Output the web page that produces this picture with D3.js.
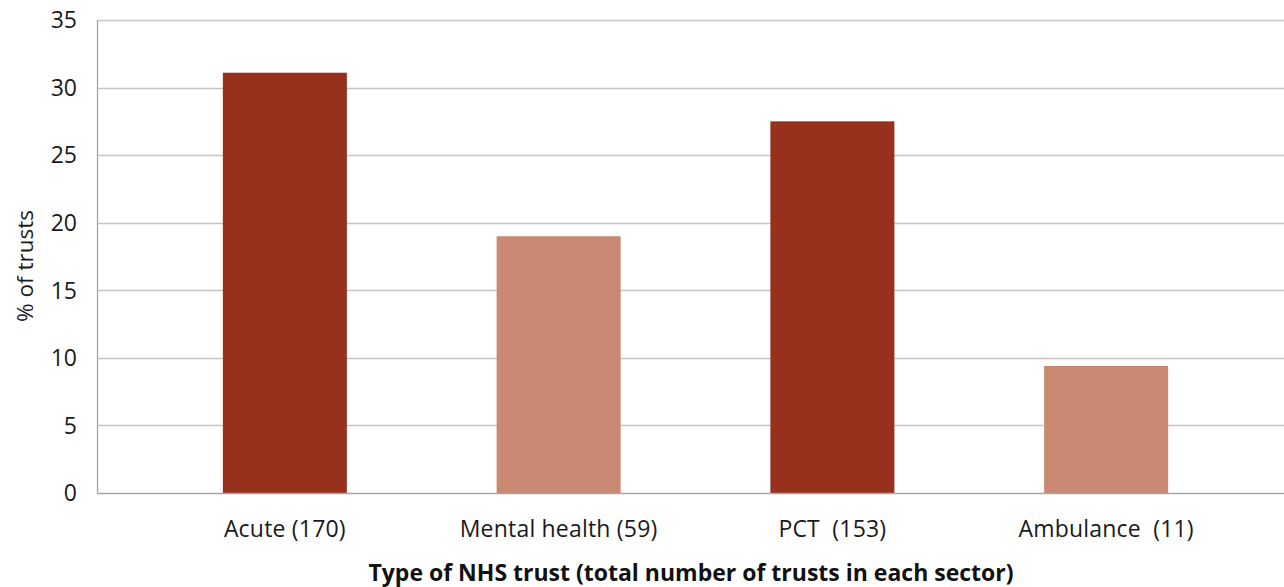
<!DOCTYPE html>
<html>
<head>
<meta charset="utf-8">
<script src="https://cdn.jsdelivr.net/npm/d3@7"></script>
<style>
  html, body { margin: 0; padding: 0; background: #fff; }
  svg { display: block; font-family: "Open Sans", "Noto Sans", sans-serif; }
</style>
</head>
<body>
<svg id="chart" width="1284" height="587"></svg>
<script>
// Share of NHS trusts by sector
const categories = ["Acute (170)", "Mental health (59)", "PCT  (153)", "Ambulance  (11)"];
const values = [31.1, 19.0, 27.5, 9.4];
const barColors = ["#97311e", "#c98872", "#97311e", "#c98872"];
const yTicks = [0, 5, 10, 15, 20, 25, 30, 35];
const yLabel = "% of trusts";
const xLabel = "Type of NHS trust (total number of trusts in each sector)";

const svg = d3.select("#chart");
const plot = { left: 97, right: 1284, top: 20, bottom: 493 };

const y = d3.scaleLinear().domain([0, 35]).range([plot.bottom, plot.top]);
const x = d3.scaleBand()
  .domain(categories)
  .range([148, 1243])
  .paddingInner(0.547)
  .paddingOuter(0.2735);

// horizontal gridlines
svg.append("g")
  .selectAll("line")
  .data(yTicks.filter(d => d > 0))
  .join("line")
  .attr("x1", plot.left).attr("x2", plot.right)
  .attr("y1", d => Math.round(y(d)) + 0.5).attr("y2", d => Math.round(y(d)) + 0.5)
  .attr("stroke", "#c4c4c4").attr("stroke-width", 1.3);

// bars
svg.append("g")
  .selectAll("rect")
  .data(values)
  .join("rect")
  .attr("x", (d, i) => x(categories[i]))
  .attr("width", x.bandwidth())
  .attr("y", d => y(d))
  .attr("height", d => y(0) - y(d))
  .attr("fill", (d, i) => barColors[i]);

// axis lines
svg.append("line")
  .attr("x1", plot.left + 0.5).attr("x2", plot.left + 0.5)
  .attr("y1", plot.top).attr("y2", plot.bottom + 0.5)
  .attr("stroke", "#a6a6a6").attr("stroke-width", 1.3);
svg.append("line")
  .attr("x1", plot.left).attr("x2", plot.right)
  .attr("y1", plot.bottom + 0.5).attr("y2", plot.bottom + 0.5)
  .attr("stroke", "#a6a6a6").attr("stroke-width", 1.3);

// y tick labels
svg.append("g")
  .selectAll("text")
  .data(yTicks)
  .join("text")
  .attr("x", 77)
  .attr("y", d => y(d))
  .attr("dy", "0.36em")
  .attr("text-anchor", "end")
  .attr("font-size", 23)
  .attr("fill", "#1a1a1a")
  .text(d => d);

// category labels
svg.append("g")
  .selectAll("text")
  .data(categories)
  .join("text")
  .attr("x", d => x(d) + x.bandwidth() / 2)
  .attr("y", 537)
  .attr("text-anchor", "middle")
  .attr("font-size", 23)
  .attr("letter-spacing", 0.2)
  .attr("fill", "#1a1a1a")
  .style("white-space", "pre")
  .text(d => d);

// axis titles
svg.append("text")
  .attr("transform", "translate(33,266) rotate(-90)")
  .attr("text-anchor", "middle")
  .attr("font-size", 22.5)
  .attr("fill", "#1a1a1a")
  .text(yLabel);

svg.append("text")
  .attr("x", 691)
  .attr("y", 581)
  .attr("text-anchor", "middle")
  .attr("font-size", 23)
  .attr("font-weight", "bold")
  .attr("fill", "#111")
  .text(xLabel);
</script>
</body>
</html>
